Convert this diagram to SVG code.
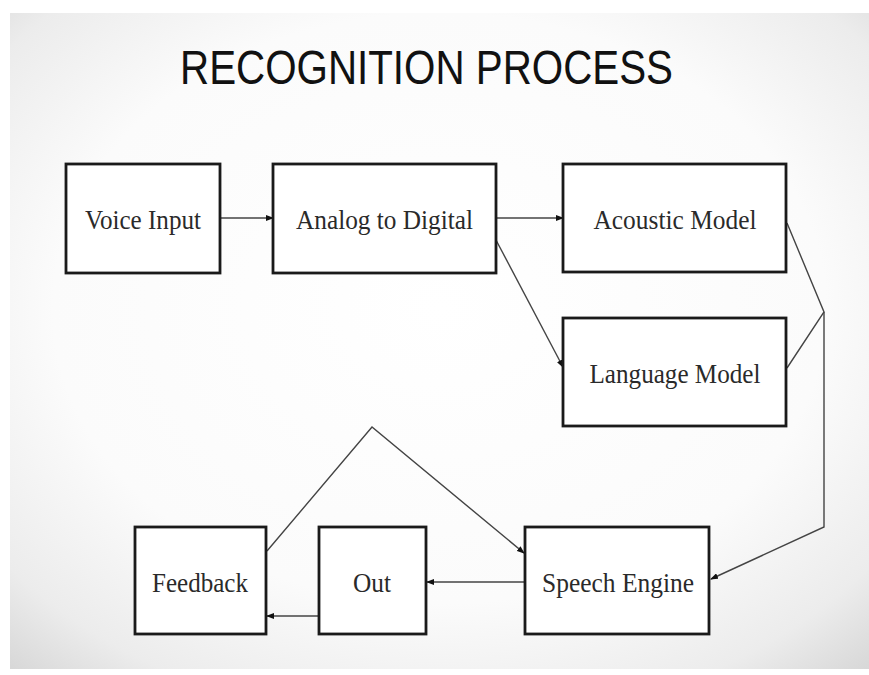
<svg xmlns="http://www.w3.org/2000/svg" width="869" height="675" viewBox="0 0 869 675">
<defs>
<radialGradient id="bg" cx="0.5" cy="0.45" r="0.75">
<stop offset="0" stop-color="#ffffff"/>
<stop offset="0.6" stop-color="#fbfbfb"/>
<stop offset="0.85" stop-color="#ececec"/>
<stop offset="1" stop-color="#d6d6d6"/>
</radialGradient>
<marker id="arr" markerWidth="8" markerHeight="6" refX="7" refY="3" orient="auto" markerUnits="userSpaceOnUse">
<path d="M0,0 L8,3 L0,6 Z" fill="#111"/>
</marker>
<style>
.box{fill:#fff;stroke:#1a1a1a;stroke-width:2.8}
.lbl{font-family:"Liberation Serif","Times New Roman",serif;font-size:28px;fill:#2a2a2a;text-anchor:middle}
.con{fill:none;stroke:#444;stroke-width:1.4}
.title{font-family:"Liberation Sans",Arial,sans-serif;font-size:49px;fill:#111}
</style>
</defs>
<rect x="0" y="0" width="869" height="675" fill="#fff"/>
<rect x="10" y="13" width="859" height="656" fill="url(#bg)"/>
<text class="title" x="180" y="84" textLength="493" lengthAdjust="spacingAndGlyphs">RECOGNITION PROCESS</text>
<g id="connectors">
<line class="con" x1="220" y1="218" x2="273" y2="218" marker-end="url(#arr)"/>
<line class="con" x1="496" y1="218" x2="563" y2="218" marker-end="url(#arr)"/>
<line class="con" x1="496" y1="240" x2="563" y2="367" marker-end="url(#arr)"/>
<polyline class="con" points="787,223 824,312 787,368"/>
<polyline class="con" points="824,312 824,527 711,579" marker-end="url(#arr)"/>
<polyline class="con" points="267,551 372,427 524,553" marker-end="url(#arr)"/>
<line class="con" x1="525" y1="582" x2="427" y2="582" marker-end="url(#arr)"/>
<line class="con" x1="319" y1="616" x2="267" y2="616" marker-end="url(#arr)"/>
</g>
<g id="voice-input"><rect class="box" x="66" y="164" width="154" height="109"/><text class="lbl" x="143" y="229" textLength="116" lengthAdjust="spacingAndGlyphs">Voice Input</text></g>
<g id="analog-to-digital"><rect class="box" x="273" y="164" width="223" height="109"/><text class="lbl" x="384.5" y="229" textLength="177" lengthAdjust="spacingAndGlyphs">Analog to Digital</text></g>
<g id="acoustic-model"><rect class="box" x="563" y="164" width="223" height="108"/><text class="lbl" x="675" y="229" textLength="163" lengthAdjust="spacingAndGlyphs">Acoustic Model</text></g>
<g id="language-model"><rect class="box" x="563" y="318" width="223" height="108"/><text class="lbl" x="675" y="383" textLength="171" lengthAdjust="spacingAndGlyphs">Language Model</text></g>
<g id="feedback"><rect class="box" x="135" y="527" width="131" height="107"/><text class="lbl" x="200" y="592" textLength="96" lengthAdjust="spacingAndGlyphs">Feedback</text></g>
<g id="out"><rect class="box" x="319" y="527" width="107" height="107"/><text class="lbl" x="372" y="592" textLength="38" lengthAdjust="spacingAndGlyphs">Out</text></g>
<g id="speech-engine"><rect class="box" x="525" y="527" width="184" height="107"/><text class="lbl" x="618" y="592" textLength="152" lengthAdjust="spacingAndGlyphs">Speech Engine</text></g>
</svg>
